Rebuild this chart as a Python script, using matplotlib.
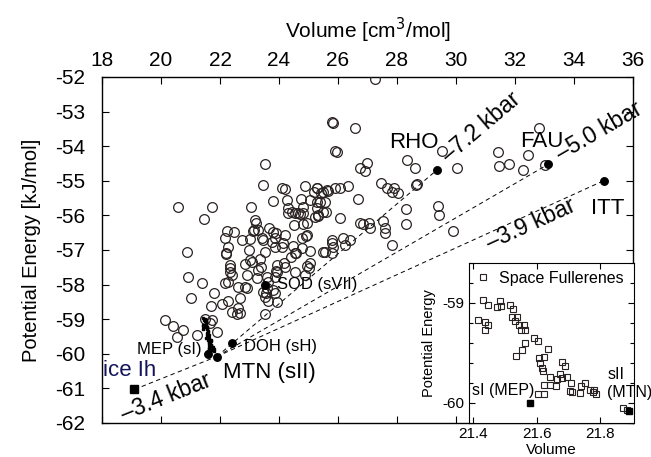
import matplotlib
matplotlib.use("Agg")
import matplotlib.pyplot as plt
from matplotlib.ticker import MultipleLocator, FixedLocator
import numpy as np

plt.rcParams['font.family'] = ['Liberation Sans', 'DejaVu Sans']
plt.rcParams['axes.unicode_minus'] = False

# ---- hypothetical structures (open circles): volume [cm3/mol], energy [kJ/mol]
vol = [27.25, 25.79, 25.82, 26.56, 25.90, 25.96, 26.75, 26.97, 26.92, 23.53, 23.47,
       28.33, 28.61, 29.52, 30.04, 31.43, 31.46, 31.78, 32.43, 32.26, 32.80, 33.02,
       28.65, 28.68, 27.46, 27.65, 27.90, 28.05, 27.82, 26.67, 28.32, 28.31, 29.38,
       29.44, 29.91, 27.54, 27.59, 27.59, 27.82, 26.75, 26.84, 27.05, 27.08, 26.08,
       26.18, 26.41, 26.24, 25.79, 25.79, 25.84, 25.79, 25.50, 25.56, 25.05, 24.49,
       24.54, 24.77, 24.77, 24.94, 24.20, 24.15, 23.86, 23.81, 23.86, 23.75, 23.90,
       24.09, 24.88, 25.28, 25.30, 25.42, 25.19, 25.67, 25.50, 25.62, 25.90, 26.07,
       26.35, 24.09, 24.20, 24.26, 24.31, 24.43, 24.54, 24.65, 24.74, 24.82, 25.05,
       25.28, 25.39, 25.56, 25.28, 25.31, 25.33, 25.50, 25.58, 23.79, 23.04, 21.72,
       20.59, 21.46, 23.65, 23.22, 23.19, 23.15, 24.96, 24.80, 24.51, 24.92, 25.22,
       24.32, 24.71, 24.82, 22.23, 22.47, 22.17, 22.28, 22.19, 22.74, 23.02, 22.98,
       23.41, 23.30, 23.13, 23.47, 23.53, 24.58, 20.87, 20.92, 21.38, 21.00, 21.79,
       22.34, 22.34, 22.34, 22.40, 22.28, 22.20, 22.85, 23.02, 23.07, 23.36, 23.39,
       23.30, 23.24, 22.90, 22.85, 22.68, 23.58, 23.64, 23.56, 23.53, 23.64, 23.92,
       23.86, 23.53, 23.92, 23.90, 24.17, 24.20, 24.40, 24.54, 24.94, 25.05, 25.00,
       24.88, 23.92, 23.86, 23.81, 22.06, 22.28, 21.69, 22.42, 22.57, 22.17, 21.91,
       21.72, 21.49, 21.23, 20.14, 20.42, 20.74, 20.53, 22.62, 22.90, 22.62, 22.68,
       21.66, 23.60, 23.45]
energy = [-52.06, -53.31, -53.33, -53.46, -54.14, -54.16, -54.62, -54.49, -54.71, -54.52, -55.13,
          -54.39, -54.63, -54.15, -54.64, -54.17, -54.57, -54.51, -54.25, -54.70, -53.48, -54.53,
          -55.13, -55.10, -55.06, -55.22, -55.20, -55.36, -55.33, -55.52, -55.82, -56.25, -55.74,
          -55.99, -56.44, -56.15, -56.36, -56.52, -56.86, -56.21, -56.25, -56.23, -56.37, -56.07,
          -56.64, -56.71, -56.86, -56.71, -56.79, -56.90, -57.08, -57.05, -57.05, -57.03, -56.88,
          -57.10, -56.95, -56.66, -56.57, -56.57, -56.81, -56.66, -56.47, -56.90, -56.76, -56.52,
          -56.90, -55.14, -55.20, -55.22, -55.36, -55.31, -55.29, -55.33, -55.27, -55.21, -55.22,
          -55.16, -55.22, -55.24, -55.56, -55.79, -55.89, -55.92, -55.94, -55.53, -55.75, -55.55,
          -55.60, -55.60, -55.60, -55.80, -55.99, -56.02, -55.89, -55.90, -55.57, -55.75, -55.75,
          -55.77, -56.10, -56.37, -56.21, -56.13, -56.42, -56.23, -56.25, -56.28, -56.59, -56.04,
          -55.94, -55.96, -55.94, -56.44, -56.47, -56.64, -56.90, -57.10, -56.71, -56.69, -57.00,
          -56.66, -56.42, -56.44, -56.71, -57.05, -57.10, -57.07, -57.77, -57.96, -58.38, -58.23,
          -57.63, -57.43, -57.53, -57.72, -57.92, -57.12, -57.40, -57.29, -57.34, -57.26, -57.50,
          -57.58, -57.80, -57.72, -58.06, -58.40, -57.77, -57.92, -58.23, -58.35, -58.47, -58.49,
          -58.25, -58.85, -57.43, -57.60, -57.37, -57.48, -57.21, -57.65, -57.45, -57.37, -57.53,
          -57.72, -57.63, -57.77, -58.16, -58.55, -58.48, -58.63, -58.78, -58.86, -57.96, -59.36,
          -59.02, -58.98, -59.46, -59.02, -59.20, -59.31, -59.52, -58.06, -58.11, -58.69, -58.83,
          -59.10, -58.10, -58.20]

# ---- named structures (filled markers)
named = ["RHO", "FAU", "ITT", "SOD (sVII)", "DOH (sH)", "MEP (sI)", "MTN (sII)"]
named_vol = [29.35, 33.13, 35.00, 23.53, 22.42, 21.58, 21.89]
named_energy = [-54.69, -54.52, -55.00, -58.00, -59.68, -60.00, -60.08]
ice_vol = 19.10
ice_energy = -61.03

# pressure lines: labels
press_labels = ["\u20137.2 kbar", "\u20135.0 kbar", "\u20133.9 kbar", "\u20133.4 kbar"]

# ---- space fullerenes (inset)
sf_vol = [21.414, 21.430, 21.446, 21.435, 21.445, 21.438, 21.475, 21.485, 21.487, 21.517,
          21.525, 21.522, 21.536, 21.530, 21.545, 21.559, 21.550, 21.564, 21.562, 21.554,
          21.533, 21.590, 21.605, 21.636, 21.606, 21.624, 21.610, 21.615, 21.619, 21.643,
          21.643, 21.624, 21.603, 21.622, 21.660, 21.664, 21.672, 21.680, 21.688, 21.680,
          21.696, 21.709, 21.706, 21.710, 21.736, 21.741, 21.752, 21.768, 21.782, 21.788,
          21.778, 21.873, 21.885]
sf_energy = [-59.17, -58.97, -59.02, -59.19, -59.22, -59.27, -59.04, -58.98, -59.03, -59.02,
             -59.06, -59.14, -59.14, -59.18, -59.22, -59.22, -59.27, -59.27, -59.40, -59.47,
             -59.53, -59.35, -59.38, -59.46, -59.55, -59.54, -59.60, -59.65, -59.68, -59.74,
             -59.82, -59.82, -59.91, -59.91, -59.83, -59.76, -59.71, -59.59, -59.63, -59.75,
             -59.74, -59.80, -59.88, -59.89, -59.90, -59.83, -59.80, -59.87, -59.87, -59.91,
             -59.89, -60.05, -60.07]

W, H = 651, 457
fig = plt.figure(figsize=(W / 100, H / 100), dpi=100)
ax = fig.add_axes([102 / W, 1 - 423 / H, 531 / W, 346 / H])

ec = '#2a2222'
ax.plot(vol, energy, linestyle='none', marker='o', ms=7.0, mfc='none', mec=ec, mew=0.9, zorder=3)
ax.plot(sf_vol, sf_energy, linestyle='none', marker='s', ms=1.8, mfc='black', mec='black', zorder=4)

# pressure lines from MTN
mtn_v, mtn_e = named_vol[6], named_energy[6]
dash = (0, (4.5, 3.5))
for i in range(3):
    ax.plot([mtn_v, named_vol[i]], [mtn_e, named_energy[i]], color='black', lw=0.7,
            linestyle=dash, zorder=2)
ax.plot([ice_vol, mtn_v], [ice_energy, mtn_e], color='black', lw=0.7, linestyle=dash, zorder=2)

ax.plot(named_vol, named_energy, linestyle='none', marker='o', ms=5.4, mfc='black', mec='black', zorder=5)
ax.plot([ice_vol], [ice_energy], linestyle='none', marker='s', ms=6.0, mfc='black', mec='black', zorder=5)

ax.set_xlim(18, 36)
ax.set_ylim(-62, -52)

# pressure labels (rotated along the lines)
def slope_angle(v0, e0, v1, e1):
    p0 = ax.transData.transform((v0, e0))
    p1 = ax.transData.transform((v1, e1))
    return np.degrees(np.arctan2(p1[1] - p0[1], p1[0] - p0[0]))

lab_pos = [(30.85, -53.45), (34.85, -53.58), (32.55, -56.25), (20.17, -61.27)]
ends = [(named_vol[0], named_energy[0]), (named_vol[1], named_energy[1]),
        (named_vol[2], named_energy[2])]
for i, (lx, ly) in enumerate(lab_pos):
    if i < 3:
        ang = slope_angle(mtn_v, mtn_e, *ends[i])
    else:
        ang = slope_angle(ice_vol, ice_energy, mtn_v, mtn_e)
    ax.text(lx, ly, press_labels[i], rotation=ang, rotation_mode='anchor',
            ha='center', va='center', fontsize=16.5, zorder=6, clip_on=False)

# structure labels
lbl_pos = [(28.58, -53.88), (32.92, -53.87), (35.14, -55.79), (25.28, -58.01),
           (24.05, -59.79), (20.29, -59.89), (23.67, -60.55)]
lbl_size = [16, 16, 16, 12, 12, 12, 16]
for name, (lx, ly), fs in zip(named, lbl_pos, lbl_size):
    ax.text(lx, ly, name, ha='center', va='center', fontsize=fs, zorder=6)
ax.text(18.04, -60.47, "ice Ih", ha='left', va='center', fontsize=16, color='#14145a', zorder=6)

ax.xaxis.set_major_locator(MultipleLocator(2))
ax.yaxis.set_major_locator(MultipleLocator(1))
ax.tick_params(axis='x', direction='in', top=True, bottom=True, labeltop=True,
               labelbottom=False, length=5, width=0.8, labelsize=15, pad=5)
ax.tick_params(axis='y', direction='in', left=True, right=True, labelleft=True,
               labelright=False, length=5, width=0.8, labelsize=15, pad=12)
ax.xaxis.set_label_position('top')
ax.set_xlabel("Volume [cm$^3$/mol]", fontsize=15, labelpad=9)
ax.set_ylabel("Potential Energy [kJ/mol]", fontsize=14.5, labelpad=10)
for s in ax.spines.values():
    s.set_linewidth(1.0)

# ---- inset
axi = fig.add_axes([469 / W, 1 - 423 / H, 165 / W, 160 / H])
axi.set_facecolor('white')
axi.plot(sf_vol, sf_energy, linestyle='none', marker='s', ms=4.2, mfc='none', mec=ec, mew=0.8,
         label='Space Fullerenes')
axi.plot([named_vol[5], named_vol[6]], [named_energy[5], named_energy[6]], linestyle='none',
         marker='s', ms=4.2, mfc='black', mec='black')
axi.set_xlim(21.386, 21.907)
axi.set_ylim(-60.2, -58.6)
axi.xaxis.set_major_locator(FixedLocator([21.4, 21.6, 21.8]))
axi.yaxis.set_major_locator(FixedLocator([-60, -59]))
axi.yaxis.set_minor_locator(MultipleLocator(0.2))
axi.tick_params(which='both', direction='in', top=True, right=True, labelsize=11, pad=3)
axi.tick_params(which='major', length=4, width=0.8)
axi.tick_params(which='minor', length=3, width=0.8)
axi.set_xlabel("Volume", fontsize=11, labelpad=1)
axi.set_ylabel("Potential Energy", fontsize=10.5, labelpad=5)
axi.text(21.395, -59.88, "sI (MEP)", ha='left', va='center', fontsize=11.5)
axi.text(21.822, -59.717, "sII", ha='left', va='center', fontsize=11.5, clip_on=False)
axi.text(21.822, -59.894, "(MTN)", ha='left', va='center', fontsize=11.5, clip_on=False)
axi.legend(loc='upper left', frameon=False, fontsize=11.5, handlelength=0.8,
           handletextpad=0.6, borderaxespad=0.2, borderpad=0.3)

fig.savefig("out.png", dpi=100)
